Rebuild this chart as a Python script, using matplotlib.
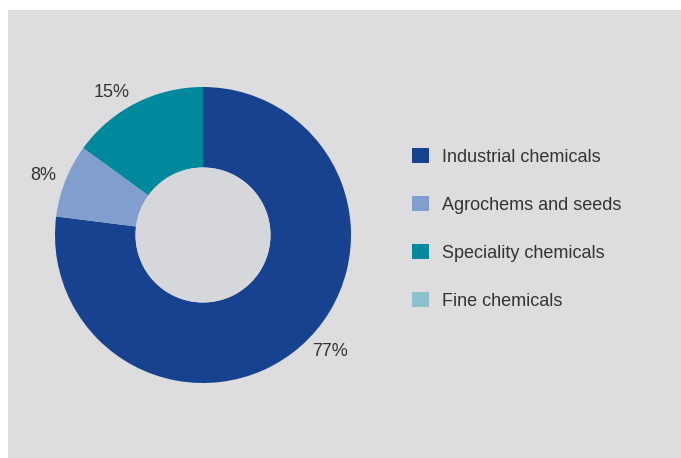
import matplotlib.pyplot as plt
from matplotlib.patches import Rectangle, Patch

segments = ["Industrial chemicals", "Agrochems and seeds",
            "Speciality chemicals", "Fine chemicals"]
shares = [77, 8, 15, 0]
colors = ["#17428f", "#809fcf", "#00889c", "#8cc1cc"]

plt.rcParams["font.family"] = ["Liberation Sans", "DejaVu Sans"]

W, H = 681, 458
fig = plt.figure(figsize=(W / 100, H / 100), dpi=100)
fig.patch.set_facecolor("white")

# grey panel behind everything
fig.patches.append(Rectangle((8 / W, 0), 1 - 8 / W, 1 - 10 / H,
                             transform=fig.transFigure,
                             facecolor="#dddddf", edgecolor="none", zorder=-5))

# donut: centre (203, 235) px, outer radius 148 px
lim = 1.25
side = 2 * lim * 148
cx, cy = 203, H - 235
ax = fig.add_axes([(cx - side / 2) / W, (cy - side / 2) / H, side / W, side / H])


def pct(v):
    return "" if v < 0.5 else f"{v:.0f}%"


wedges, texts, autotexts = ax.pie(
    shares, colors=colors, startangle=90, counterclock=False,
    radius=1.0, wedgeprops=dict(width=1 - 67.5 / 148, linewidth=0),
    autopct=pct, pctdistance=1.16,
    textprops=dict(fontsize=13, color="#333333"))
ax.axis("off")
ax.set_xlim(-lim, lim)
ax.set_ylim(-lim, lim)

# nudge the percentage labels off the mid-angle
label_pos = [(0.86, -0.79), (-1.08, 0.40), (-0.62, 0.96), (0, 0)]
for t, p in zip(autotexts, label_pos):
    t.set_position(p)

# hole is a touch darker than the panel
hole = plt.Circle((0, 0), 67.5 / 148, facecolor="#d6d7da", edgecolor="none")
ax.add_patch(hole)

handles = [Patch(facecolor=c, edgecolor="none") for c in colors]
fig.legend(handles, segments, loc="upper left",
           bbox_to_anchor=(396 / W, 1 - 132 / H),
           frameon=False, fontsize=13, labelcolor="#333333",
           handlelength=0.9, handleheight=0.9, handletextpad=0.72,
           labelspacing=1.68)

fig.savefig("out.png", dpi=100)
